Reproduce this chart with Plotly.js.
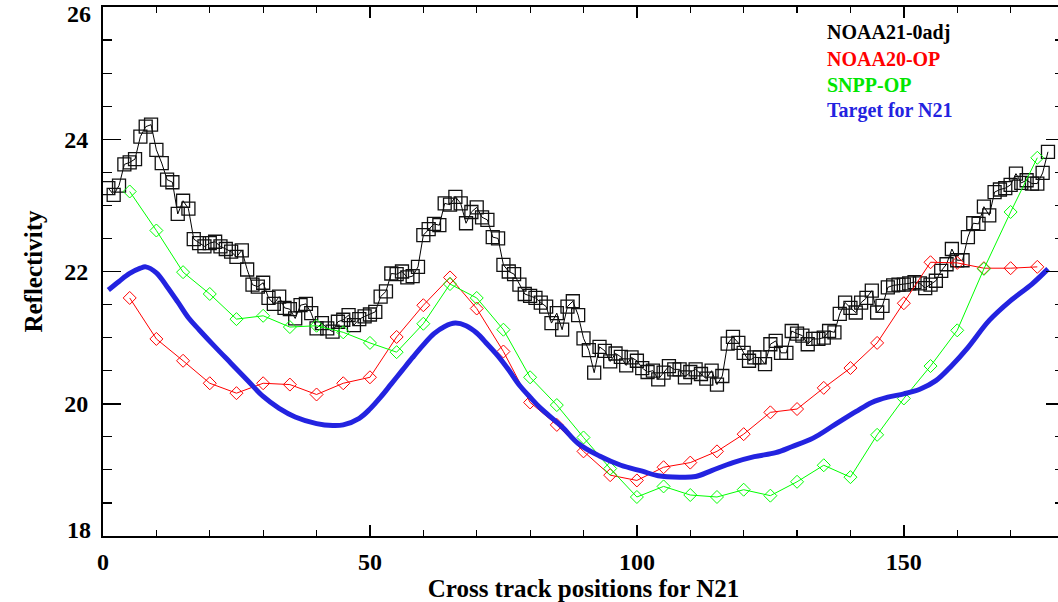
<!DOCTYPE html>
<html>
<head>
<meta charset="utf-8">
<script src="https://cdn.plot.ly/plotly-3.0.1.min.js"></script>
<style>html,body{margin:0;padding:0;background:#fff;overflow:hidden;}#chart{width:1064px;height:602px;}</style>
</head>
<body>
<div id="chart"></div>
<script>
// NOAA21-0adj: one value per cross-track position, starting at position 1
const noaa21Values = [
 23.26,23.16,23.30,23.62,23.65,23.70,24.04,24.19,24.22,23.84,
 23.64,23.39,23.35,22.87,23.07,22.95,22.49,22.43,22.38,22.43,
 22.45,22.38,22.34,22.30,22.22,22.32,22.03,21.80,21.77,21.83,
 21.60,21.51,21.62,21.45,21.43,21.29,21.49,21.51,21.37,21.14,
 21.22,21.14,21.09,21.24,21.27,21.34,21.19,21.28,21.32,21.35,
 21.39,21.62,21.70,21.97,21.96,22.00,21.91,21.93,22.07,22.55,
 22.64,22.72,22.70,23.03,23.01,23.13,23.03,22.73,22.90,22.97,
 22.82,22.78,22.52,22.50,22.10,22.00,21.96,21.80,21.66,21.63,
 21.60,21.53,21.47,21.22,21.37,21.12,21.47,21.55,21.34,20.99,
 20.81,20.47,20.86,20.80,20.64,20.76,20.71,20.58,20.70,20.65,
 20.54,20.48,20.50,20.37,20.47,20.57,20.52,20.52,20.40,20.48,
 20.52,20.45,20.38,20.50,20.29,20.42,20.91,21.01,20.92,20.77,
 20.65,20.70,20.70,20.60,20.90,20.95,20.77,20.77,21.10,21.06,
 21.03,20.90,20.98,20.98,21.00,21.10,21.08,21.36,21.53,21.45,
 21.38,21.53,21.60,21.71,21.38,21.48,21.76,21.79,21.80,21.80,
 21.82,21.84,21.82,21.75,21.80,21.86,22.01,22.11,22.34,22.17,
 22.17,22.52,22.73,22.72,22.98,22.85,23.20,23.24,23.26,23.31,
 23.48,23.34,23.38,23.33,23.33,23.49,23.81
];
const noaa21Positions = noaa21Values.map((v, i) => i + 1);

// NOAA20-OP and SNPP-OP at every 5th position
const opPositions = [5,10,15,20,25,30,35,40,45,50,55,60,65,70,75,80,85,90,95,100,105,110,115,120,125,130,135,140,145,150,155,160,165,170,175];
const noaa20Values = [21.60,20.98,20.65,20.31,20.16,20.31,20.29,20.14,20.31,20.40,21.01,21.49,21.91,21.44,20.79,20.02,19.68,19.28,18.92,18.84,19.04,19.11,19.28,19.54,19.87,19.92,20.24,20.54,20.92,21.52,22.14,22.13,22.05,22.05,22.07];
const snppValues = [23.21,22.62,21.99,21.66,21.28,21.33,21.16,21.18,21.08,20.92,20.78,21.21,21.81,21.60,21.12,20.40,19.98,19.49,19.02,18.59,18.75,18.62,18.59,18.70,18.61,18.82,19.07,18.89,19.53,20.08,20.57,21.11,22.04,22.90,23.72];

// Target for N21 (smooth curve, sampled)
const targetPositions = [1,3,5,7,8,10,12,14,16,18,21,24,27,30,33,36,40,43,45,48,50,52,54,56,58,60,62,64,66,68,70,72,74,76,78,80,82,86,89,93,97,101,104,108,111,114,118,122,126,129,133,137,141,144,147,150,153,156,159,162,166,170,174,177];
const targetValues = [21.72,21.85,21.97,22.05,22.07,21.98,21.77,21.54,21.30,21.12,20.86,20.61,20.36,20.11,19.93,19.80,19.70,19.67,19.68,19.78,19.92,20.10,20.30,20.50,20.70,20.89,21.06,21.17,21.22,21.18,21.07,20.90,20.72,20.51,20.28,20.10,19.93,19.65,19.40,19.21,19.07,18.98,18.91,18.89,18.90,18.99,19.11,19.20,19.26,19.35,19.48,19.68,19.88,20.02,20.10,20.15,20.22,20.35,20.58,20.85,21.26,21.56,21.81,22.04];

const yTickValues = [18, 20, 22, 24, 26];
const yTickText = ['', '20', '22', '24', ''];
const xTickValues = [0, 50, 100, 150];

const seriesNames = ['NOAA21-0adj','NOAA20-OP','SNPP-OP','Target for N21'];
const seriesColors = ['#000000','#ff0000','#00ff00','#2323e0'];
const legendTextColors = ['#000000','#ff0000','#00e600','#2323e0'];

const traces = [
  {x: noaa21Positions, y: noaa21Values, mode: 'lines+markers', name: seriesNames[0],
   line: {color: seriesColors[0], width: 1},
   marker: {symbol: 'square-open', size: 13, color: '#111', line: {width: 1.3}}},
  {x: opPositions, y: noaa20Values, mode: 'lines+markers', name: seriesNames[1],
   line: {color: seriesColors[1], width: 1},
   marker: {symbol: 'diamond-open', size: 10, color: seriesColors[1], line: {width: 1}}},
  {x: opPositions, y: snppValues, mode: 'lines+markers', name: seriesNames[2],
   line: {color: seriesColors[2], width: 1},
   marker: {symbol: 'diamond-open', size: 10, color: seriesColors[2], line: {width: 1}}},
  {x: targetPositions, y: targetValues, mode: 'lines', name: seriesNames[3],
   line: {color: seriesColors[3], width: 5, shape: 'spline', smoothing: 1}}
];

const serif = 'Liberation Serif, Times New Roman, serif';
const plotH = 529, plotTop = 7, plotW = 961, plotLeft = 103;
const legendY = [0.951, 0.902, 0.853, 0.805];
const annotations = seriesNames.map((n, i) => ({
  text: '<b>' + n + '</b>', xref: 'paper', yref: 'paper', x: 0.751, y: legendY[i],
  xanchor: 'left', yanchor: 'middle', showarrow: false,
  font: {family: serif, size: 20, color: legendTextColors[i]}
}));
// end labels of the y axis, drawn inside the frame as in the reference
[[26, 14], [18, 530]].forEach(([val, py]) => {
  annotations.push({
    text: '<b>' + val + '</b>', xref: 'paper', yref: 'paper',
    x: -10 / plotW, y: (plotTop + plotH - py) / plotH,
    xanchor: 'right', yanchor: 'middle', showarrow: false,
    font: {family: serif, size: 24, color: '#000'}
  });
});

const layout = {
  width: 1064, height: 602,
  margin: {l: plotLeft, r: 0, t: plotTop, b: 66},
  paper_bgcolor: '#ffffff', plot_bgcolor: '#ffffff',
  showlegend: false,
  font: {family: serif, color: '#000'},
  xaxis: {
    range: [0, 180], tickmode: 'array', tickvals: xTickValues,
    ticks: 'inside', ticklen: 11, tickwidth: 1.5, tickcolor: '#000',
    minor: {dtick: 10, tick0: 0, ticks: 'inside', ticklen: 6, tickwidth: 1.2, tickcolor: '#000', showgrid: false},
    showline: true, linecolor: '#000', linewidth: 2, mirror: 'allticks',
    showgrid: false, zeroline: false,
    tickfont: {family: serif, size: 24, color: '#000', weight: 'bold'},
    ticklabelstandoff: 3,
    title: {text: '<b>Cross track positions for N21</b>', font: {family: serif, size: 25, color: '#000'}, standoff: 6}
  },
  yaxis: {
    range: [18, 26], tickmode: 'array', tickvals: yTickValues, ticktext: yTickText,
    ticks: 'inside', ticklen: 18, tickwidth: 1.5, tickcolor: '#000',
    minor: {dtick: 0.5, tick0: 18, ticks: 'inside', ticklen: 9, tickwidth: 1.2, tickcolor: '#000', showgrid: false},
    showline: true, linecolor: '#000', linewidth: 2, mirror: 'allticks',
    showgrid: false, zeroline: false,
    tickfont: {family: serif, size: 24, color: '#000', weight: 'bold'},
    ticklabelstandoff: 8,
    title: {text: '<b>Reflectivity</b>', font: {family: serif, size: 25, color: '#000'}, standoff: 14}
  },
  annotations: annotations
};

Plotly.newPlot('chart', traces, layout, {displayModeBar: false, staticPlot: true});
</script>
</body>
</html>
